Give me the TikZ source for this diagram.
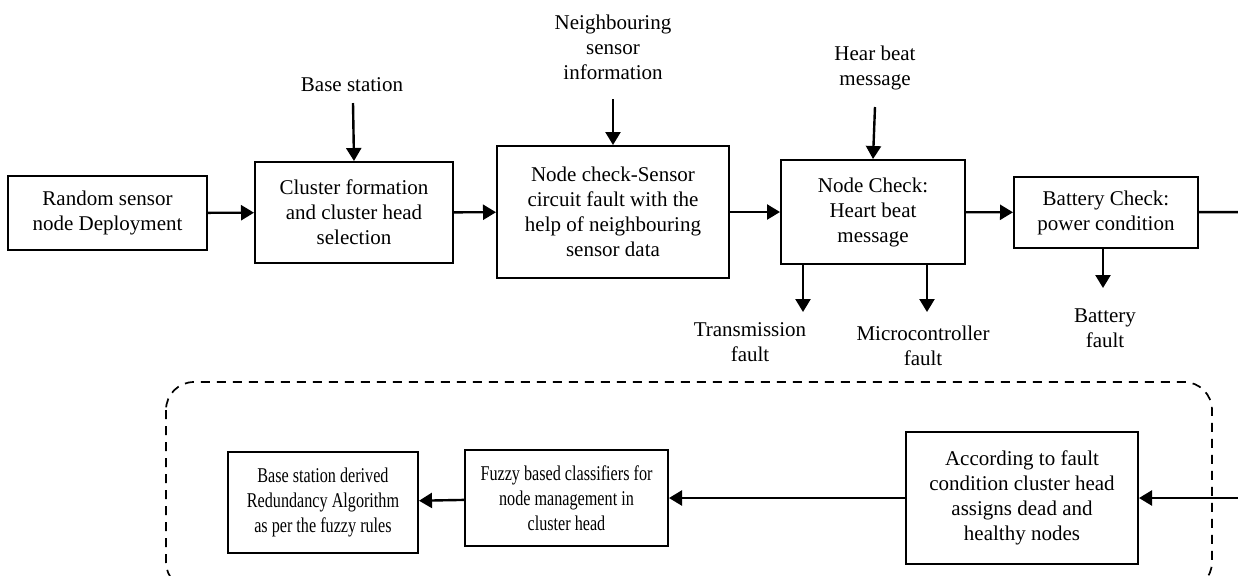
\documentclass[tikz,border=0pt]{standalone}
\usepackage{fontspec}
\setmainfont{Liberation Serif}
\newfontfamily\narrowserif[FakeStretch=0.77]{Liberation Serif}
\usetikzlibrary{arrows.meta}
\begin{document}
\begin{tikzpicture}[x=0.5pt,y=-0.5pt,
  txt/.style={font=\fontsize{10.5}{12.5}\selectfont, align=center, inner sep=0pt},
  box/.style={txt, draw, line width=1pt},
  narrowbox/.style={box, font=\narrowserif\fontsize{10.5}{12.5}\selectfont},
  flow/.style={-{Triangle[length=6.5pt,width=7.5pt]}, line width=1.2pt},
  plain/.style={line width=1.2pt},
  group/.style={dash pattern=on 4.5pt off 3.5pt, line width=0.85pt, rounded corners=14pt}]
\useasboundingbox (0,0) rectangle (1238,575);
\clip (0,0) rectangle (1238,575);

% upper chain of processing steps
\node[box, minimum width=99.5pt, minimum height=37pt] (rand) at (107.5,213)
  {Random sensor\\node Deployment};
\node[box, minimum width=99pt, minimum height=50.5pt] (clus) at (354,212.5)
  {Cluster formation\\and cluster head\\selection};
\node[box, minimum width=116pt, minimum height=66pt] (sens) at (613,212)
  {Node check-Sensor\\circuit fault with the\\help of neighbouring\\sensor data};
\node[box, minimum width=92pt, minimum height=52pt] (heart) at (873,212)
  {Node Check:\\Heart beat\\message};
\node[box, minimum width=92pt, minimum height=35.5pt] (batt) at (1106,212.5)
  {Battery Check:\\power condition};

% lower chain inside the dashed group
\node[box, minimum width=116pt, minimum height=66pt] (assign) at (1022,498)
  {According to fault\\condition cluster head\\assigns dead and\\healthy nodes};
\node[narrowbox, minimum width=101.5pt, minimum height=48pt] (fuzzy) at (566.5,498)
  {Fuzzy based classifiers for\\node management in\\cluster head};
\node[narrowbox, minimum width=95pt, minimum height=50.5pt] (redund) at (323,502.5)
  {Base station derived\\Redundancy Algorithm\\as per the fuzzy rules};

% inputs from above
\node[txt] (bsLbl) at (352,85) {Base station};
\node[txt] (nbLbl) at (613,47) {Neighbouring\\sensor\\information};
\node[txt] (hbLbl) at (875,68) {Hear beat\\message};
\coordinate (bsIn) at (353,103);
\coordinate (nbIn) at (613,99);
\coordinate (hbIn) at (875,107);

% fault outputs below
\coordinate (txEnd) at (803,312);
\coordinate (mcEnd) at (927,312);
\coordinate (btEnd) at (1103,288);
\node[txt] (txLbl) at (750,342) {Transmission\\fault};
\node[txt] (mcLbl) at (923,346) {Microcontroller\\fault};
\node[txt] (btLbl) at (1105,328) {Battery\\fault};

% links leaving and entering at the right
\coordinate (outR) at (1250,212);
\coordinate (inR) at (1250,498);

% connectors
\draw[flow] (rand) -- (clus);
\draw[flow] (clus) -- (sens);
\draw[flow] (sens) -- (heart);
\draw[flow] (heart) -- (batt);
\draw[plain] (batt) -- (outR);

\draw[flow] (bsIn) -- (clus.north);
\draw[flow] (nbIn) -- (sens.north);
\draw[flow] (hbIn) -- (heart.north);

\draw[flow] (heart.south -| txEnd) -- (txEnd);
\draw[flow] (heart.south -| mcEnd) -- (mcEnd);
\draw[flow] (batt.south -| btEnd) -- (btEnd);

\draw[flow] (inR) -- (assign);
\draw[flow] (assign) -- (fuzzy);
\draw[flow] (fuzzy) -- (redund);

% dashed grouping frame
\draw[group] (166,382) rectangle (1212,590);
\end{tikzpicture}
\end{document}
